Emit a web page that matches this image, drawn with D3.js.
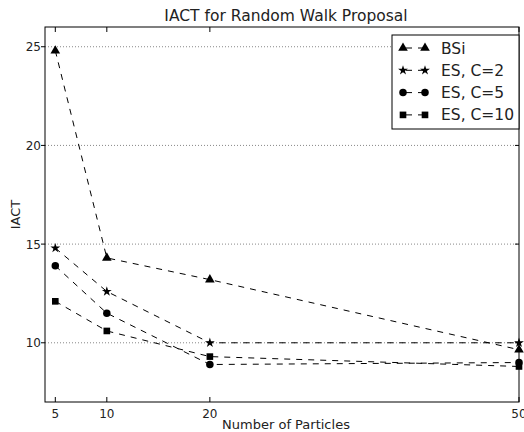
<!DOCTYPE html>
<html><head><meta charset="utf-8">
<script src="https://cdn.jsdelivr.net/npm/d3@7"></script>
<style>body{margin:0;background:#fff}svg{display:block;font-family:"DejaVu Sans",sans-serif}</style>
</head><body><svg id="c" width="524" height="432"></svg>
<script>
const particles = [5, 10, 20, 50];
const seriesNames = ["BSi", "ES, C=2", "ES, C=5", "ES, C=10"];
const bsi = [24.8, 14.3, 13.2, 9.65];
const esC2 = [14.8, 12.6, 10.0, 10.0];
const esC5 = [13.9, 11.5, 8.9, 9.0];
const esC10 = [12.1, 10.6, 9.3, 8.8];
const yTicks = [10, 15, 20, 25];
const xTicks = [5, 10, 20, 50];
const series = [bsi, esC2, esC5, esC10];
const markerTypes = [d3.symbolTriangle, d3.symbolStar, d3.symbolCircle, d3.symbolSquare];
const markerSizes = [40, 30, 44, 44];

const svg = d3.select("#c");
const L = 45, R = 519, T = 27, B = 402;
const x = d3.scaleLinear().domain([4, 50]).range([L, R]);
const y = d3.scaleLinear().domain([7, 26]).range([B, T]);
const ink = "#000";

// grid
svg.append("g").selectAll("line").data(yTicks).join("line")
  .attr("x1", L).attr("x2", R).attr("y1", d => y(d)).attr("y2", d => y(d))
  .attr("stroke", "#888").attr("stroke-width", 1).attr("stroke-dasharray", "1,2");

// lines
const line = d3.line().x((d, i) => x(particles[i])).y(d => y(d));
series.forEach((s, k) => {
  svg.append("path").datum(s).attr("d", line).attr("fill", "none")
    .attr("stroke", ink).attr("stroke-width", 1).attr("stroke-dasharray", "6,6");
  svg.append("g").selectAll("path").data(s).join("path")
    .attr("transform", (d, i) => `translate(${x(particles[i])},${y(d)})`)
    .attr("d", d3.symbol().type(markerTypes[k]).size(markerSizes[k]))
    .attr("fill", ink);
});

// frame
svg.append("rect").attr("x", L).attr("y", T).attr("width", R - L).attr("height", B - T)
  .attr("fill", "none").attr("stroke", ink).attr("stroke-width", 1);

// x ticks (inward, top and bottom)
const xg = svg.append("g");
xTicks.forEach(t => {
  xg.append("line").attr("x1", x(t)).attr("x2", x(t)).attr("y1", B).attr("y2", B - 5).attr("stroke", ink);
  xg.append("line").attr("x1", x(t)).attr("x2", x(t)).attr("y1", T).attr("y2", T + 5).attr("stroke", ink);
  xg.append("text").attr("x", x(t)).attr("y", B + 16).attr("text-anchor", "middle")
    .attr("font-size", 12).attr("fill", "#222").text(t);
});
// y ticks
const yg = svg.append("g");
yTicks.forEach(t => {
  yg.append("line").attr("x1", L).attr("x2", L - 4).attr("y1", y(t)).attr("y2", y(t)).attr("stroke", ink);
  yg.append("line").attr("x1", R).attr("x2", R - 4).attr("y1", y(t)).attr("y2", y(t)).attr("stroke", ink);
  yg.append("text").attr("x", L - 4).attr("y", y(t) + 4.5).attr("text-anchor", "end")
    .attr("font-size", 12).attr("fill", "#222").text(t);
});

// labels
svg.append("text").attr("x", (L + R) / 2 + 4).attr("y", 21).attr("text-anchor", "middle")
  .attr("font-size", 15.5).attr("fill", "#222").text("IACT for Random Walk Proposal");
svg.append("text").attr("x", (L + R) / 2 + 4).attr("y", 429).attr("text-anchor", "middle")
  .attr("font-size", 13).attr("fill", "#222").text("Number of Particles");
svg.append("text").attr("transform", `translate(20,${(T + B) / 2}) rotate(-90)`).attr("text-anchor", "middle")
  .attr("font-size", 13).attr("fill", "#222").text("IACT");

// legend
const lg = svg.append("g");
lg.append("rect").attr("x", 392).attr("y", 35).attr("width", 127).attr("height", 94)
  .attr("fill", "#fff").attr("stroke", ink).attr("stroke-width", 1);
seriesNames.forEach((n, k) => {
  const yy = 48 + k * 22.3;
  lg.append("line").attr("x1", 403).attr("x2", 425).attr("y1", yy).attr("y2", yy)
    .attr("stroke", ink).attr("stroke-dasharray", "6,6").attr("stroke-dashoffset", -3);
  [403, 425].forEach(px => lg.append("path").attr("transform", `translate(${px},${yy})`)
    .attr("d", d3.symbol().type(markerTypes[k]).size(markerSizes[k])).attr("fill", ink));
  lg.append("text").attr("x", 441).attr("y", yy + 5.5).attr("font-size", 15.5).attr("fill", "#222").text(n);
});
</script></body></html>
